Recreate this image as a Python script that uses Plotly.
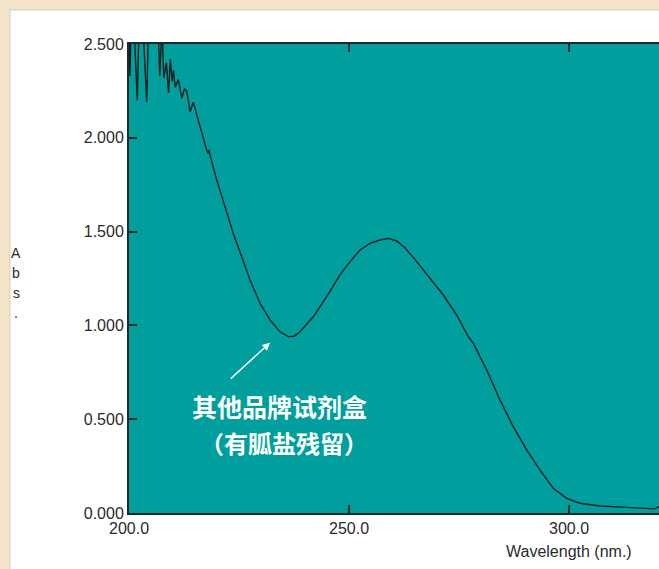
import plotly.graph_objects as go

# ---- data ----
wavelength_nm = [
    200.0, 200.23, 200.45, 201.14, 201.89, 202.27, 203.18, 204.02, 204.43,
    206.59, 207.0, 207.5, 207.9, 208.5, 209.0, 209.4, 209.8, 210.1, 210.5,
    211.2, 212.0, 212.6, 213.1, 213.9, 214.6, 215.4, 216.5, 217.2, 217.7,
    218.0, 218.2, 218.5, 219.93, 221.82, 223.7, 225.61, 227.5, 229.77,
    232.05, 234.32, 236.2, 237.5, 238.86, 241.89, 244.93, 247.95, 250.23,
    252.5, 254.77, 257.05, 258.93, 260.84, 262.73, 265.39, 268.41, 271.43,
    274.48, 277.11, 278.25, 281.3, 284.32, 287.34, 290.39, 293.41, 296.43,
    299.48, 302.5, 307.05, 313.11, 318.41, 319.5, 320.45,
]
absorbance = [
    2.60, 2.33, 2.60, 2.60, 2.20, 2.60, 2.60, 2.19, 2.60,
    2.60, 2.33, 2.60, 2.32, 2.40, 2.24, 2.42, 2.30, 2.36, 2.27,
    2.31, 2.21, 2.26, 2.25, 2.14, 2.19, 2.12, 2.03, 1.97, 1.93,
    1.917, 1.935, 1.90, 1.775, 1.633, 1.49, 1.366, 1.242, 1.118,
    1.029, 0.966, 0.940, 0.942, 0.966, 1.046, 1.153, 1.269, 1.340,
    1.402, 1.437, 1.455, 1.464, 1.450, 1.414, 1.340, 1.251, 1.162,
    1.055, 0.940, 0.905, 0.762, 0.602, 0.460, 0.336, 0.229, 0.132,
    0.078, 0.052, 0.037, 0.030, 0.025, 0.022, 0.034,
]
x_ticks = [200.0, 250.0, 300.0]
y_ticks = [0.0, 0.5, 1.0, 1.5, 2.0, 2.5]
note_line1 = "其他品牌试剂盒"
note_line2 = "（有胍盐残留）"
x_title = "Wavelength (nm.)"
y_title_letters = ["A", "b", "s", "."]

W, H = 659, 569
L, T, B = 129, 44, 56
PW, PH = W - L, H - T - B
X0, X1 = 200.0, 200.0 + PW / 4.4
Y0, Y1 = 0.0, 2.5

TEAL = "#009f9d"
BEIGE = "#f1e4c9"
AXIS = "#1c2a2a"
TXT = "#2a2a2a"
TICKFONT = dict(family="Liberation Sans, Arial, sans-serif", size=16, color=TXT)


def px_to_paper_x(px):
    return (px - L) / PW


def px_to_paper_y(py):
    return (H - B - py) / PH


fig = go.Figure()
fig.add_trace(go.Scatter(
    x=wavelength_nm, y=absorbance, mode="lines",
    line=dict(color="#0b1f1f", width=1.4),
    hoverinfo="skip", showlegend=False,
))

shapes = [
    # white panel on beige page
    dict(type="rect", xref="paper", yref="paper", layer="below",
         x0=px_to_paper_x(10), x1=px_to_paper_x(W + 5), y0=px_to_paper_y(H + 5), y1=px_to_paper_y(10),
         fillcolor="white", line=dict(color="#d6cfc0", width=1)),
    # teal plot area
    dict(type="rect", xref="paper", yref="paper", layer="below",
         x0=0, x1=1, y0=0, y1=1,
         fillcolor=TEAL, line=dict(width=0)),
]

annotations = [
    # arrow
    dict(x=232.05, y=0.908, xref="x", yref="y", ax=222.8, ay=0.709, axref="x", ayref="y",
         text="", showarrow=True, arrowhead=2, arrowsize=1.1, arrowwidth=1.4,
         arrowcolor="white"),
    dict(x=234.1, y=0.570, xref="x", yref="y", text="<b>" + note_line1 + "</b>",
         xanchor="center", yanchor="middle",
         showarrow=False, font=dict(family="Noto Sans CJK SC", size=25, color="white")),
    dict(x=235.2, y=0.378, xref="x", yref="y", text="<b>" + note_line2 + "</b>",
         xanchor="center", yanchor="middle",
         showarrow=False, font=dict(family="Noto Sans CJK SC", size=24, color="white")),
    dict(x=300.0, y=px_to_paper_y(551), xref="x", yref="paper", text=x_title,
         xanchor="center", yanchor="middle", showarrow=False, font=TICKFONT),
]
for i, ch in enumerate(y_title_letters):
    annotations.append(dict(
        x=px_to_paper_x(16), y=px_to_paper_y(253 + i * 20), xref="paper", yref="paper",
        xanchor="center", yanchor="middle",
        text=ch, showarrow=False, font=dict(family="Liberation Sans, Arial", size=14, color=TXT),
    ))

fig.update_layout(
    width=W, height=H,
    margin=dict(l=L, r=0, t=T, b=B, pad=0),
    paper_bgcolor=BEIGE,
    plot_bgcolor=TEAL,
    shapes=shapes,
    annotations=annotations,
    showlegend=False,
    xaxis=dict(
        range=[X0, X1], tickvals=x_ticks, tickformat=".1f",
        ticks="inside", ticklen=8, tickwidth=2, tickcolor=AXIS,
        showline=True, linecolor=AXIS, linewidth=2, mirror="ticks",
        showgrid=False, zeroline=False, tickfont=TICKFONT, ticklabelstandoff=0,
    ),
    yaxis=dict(
        range=[Y0, Y1], tickvals=y_ticks, tickformat=".3f",
        ticks="inside", ticklen=8, tickwidth=2, tickcolor=AXIS,
        showline=True, linecolor=AXIS, linewidth=2, mirror=False,
        showgrid=False, zeroline=False, tickfont=TICKFONT,
    ),
)

fig.write_html(
    "out.html",
    config={"displayModeBar": False, "staticPlot": True},
    post_script="document.body.style.margin='0';document.body.style.overflow='hidden';",
)
